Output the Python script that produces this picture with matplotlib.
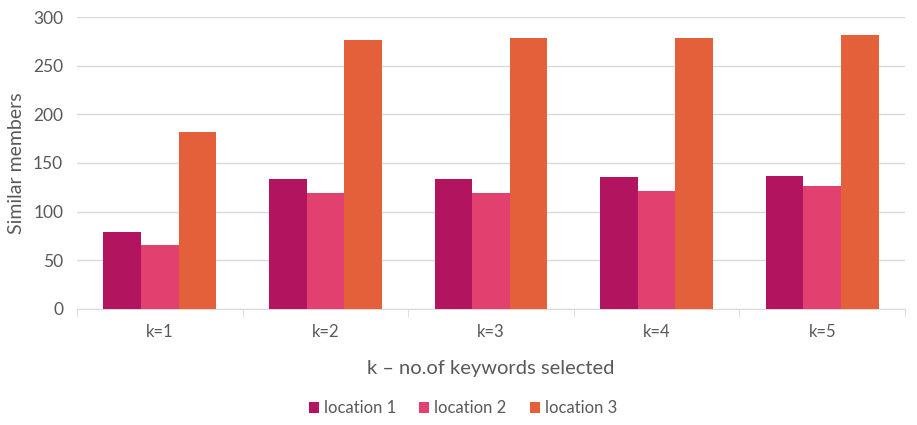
import matplotlib.pyplot as plt
import numpy as np

categories = ["k=1", "k=2", "k=3", "k=4", "k=5"]
location_1 = [79, 134, 134, 136, 137]
location_2 = [66, 119, 119, 121, 126]
location_3 = [182, 276, 278, 278, 281]
series_names = ["location 1", "location 2", "location 3"]
colors = ["#B3145F", "#E2406F", "#E4603A"]

plt.rcParams["font.family"] = ["Lato", "DejaVu Sans"]
text_color = "#595959"

fig = plt.figure(figsize=(9.17, 4.25), dpi=100)
ax = fig.add_axes([0.084, 0.273, 0.903, 0.687])

x = np.arange(len(categories))
width = 0.227
for i, (vals, name, c) in enumerate(zip([location_1, location_2, location_3], series_names, colors)):
    ax.bar(x + (i - 1) * width, vals, width, color=c, label=name, zorder=3)

ax.set_xlim(-0.5, len(categories) - 0.5)
ax.set_ylim(0, 300)
ax.set_yticks(range(0, 301, 50))
ax.yaxis.grid(True, color="#d9d9d9", linewidth=1, zorder=0)
ax.set_xticks(x)
ax.set_xticklabels(categories)
ax.set_xticks(np.arange(-0.5, len(categories), 1), minor=True)
ax.tick_params(axis="x", which="major", length=0, pad=11, labelsize=12, labelcolor=text_color)
ax.tick_params(axis="x", which="minor", length=6, color="#d9d9d9")
ax.tick_params(axis="y", length=0, pad=10, labelsize=12.5, labelcolor=text_color)

for side in ["top", "right", "left"]:
    ax.spines[side].set_visible(False)
ax.spines["bottom"].set_color("#d9d9d9")

ax.set_ylabel("Similar members", fontsize=14, color=text_color, labelpad=6)
ax.set_xlabel("k \u2013 no.of keywords selected", fontsize=14.5, color=text_color, labelpad=14)

fig.legend(loc="lower center", bbox_to_anchor=(0.505, -0.015), ncol=3, frameon=False,
           fontsize=12, labelcolor=text_color, handlelength=0.6, handleheight=0.6,
           handletextpad=0.3, columnspacing=1.4)

fig.savefig("out.png", dpi=100)
